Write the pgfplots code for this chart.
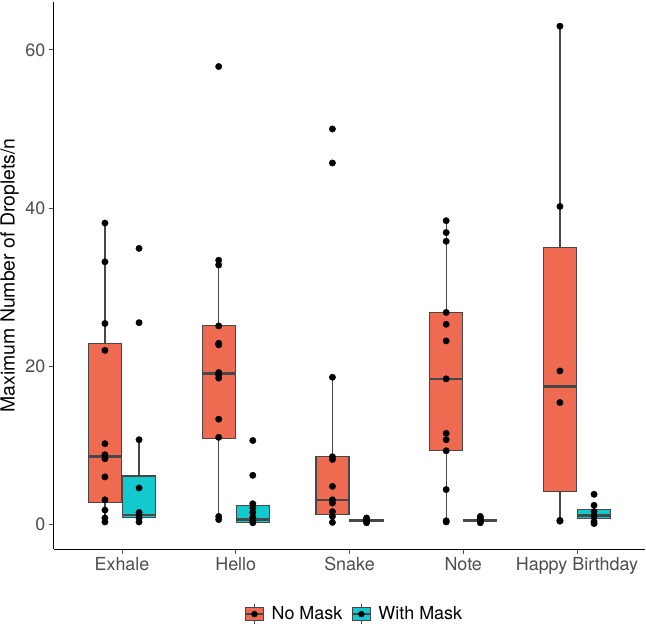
\documentclass[border=0pt]{standalone}
\usepackage{pgfplots}
\pgfplotsset{compat=1.18}
\usepgfplotslibrary{statistics}
\usepackage{fontspec}
\setmainfont{TeX Gyre Heros}
\definecolor{nomask}{HTML}{EE6A50}
\definecolor{withmask}{HTML}{12CACE}
\definecolor{boxedge}{HTML}{474747}
\definecolor{axtext}{HTML}{4D4D4D}
\pgfplotsset{
  bx/.style n args={6}{forget plot, draw=boxedge, line width=1.2bp,
    boxplot/draw direction=y,
    boxplot prepared={draw position=#1, box extend=0.29, whisker extend=0,
      lower whisker=#2, lower quartile=#3, median=#4, upper quartile=#5, upper whisker=#6,
      every median/.style={line width=2.6bp}}},
  pts/.style={only marks, mark=*, mark size=3.2bp, black, forget plot, mark options={draw=none, fill=black}},
  keyimg/.style={legend image code/.code={
    \path[draw=boxedge, line width=1.1bp] (9.5bp,-10bp) -- (9.5bp,10bp);
    \path[draw=boxedge, fill=#1, line width=1.1bp] (0.5bp,-6.5bp) rectangle (18.5bp,6.5bp);
    \path[draw=boxedge, line width=2.2bp] (0.5bp,0bp) -- (18.5bp,0bp);
    \path[fill=black] (9.5bp,0bp) circle[radius=3bp];
  }},
}
\begin{document}
\begin{tikzpicture}
\useasboundingbox (-53.75bp,-95bp) rectangle (592.25bp,549bp);
\begin{axis}[
  at={(0,0)}, anchor=south west,
  scale only axis, width=591.5bp, height=547bp,
  xmin=0.4, xmax=5.6, ymin=-3.12, ymax=66.06,
  axis x line*=bottom, axis y line*=left,
  axis line style={line width=0.9bp, black},
  xtick={1,2,3,4,5},
  xticklabels={Exhale,Hello,Snake,Note,Happy Birthday},
  ytick={0,20,40,60},
  tick align=outside, major tick length=5bp,
  tick style={line width=0.9bp, axtext},
  /pgf/number format/assume math mode=true,
  ticklabel style={font=\fontsize{18}{21}\selectfont, text=axtext},
  ylabel={Maximum Number of Droplets/n},
  every axis y label/.style={at={(axis description cs:-0.0744,0.5)}, rotate=90, anchor=center, font=\fontsize{19.5}{23}\selectfont},
  clip=false,
  legend columns=2,
  legend style={at={(axis description cs:0.508,-0.119)}, anchor=center, draw=none, fill=none,
    font=\fontsize{18}{21}\selectfont,
    /tikz/every odd column/.append style={column sep=5bp},
    /tikz/every even column/.append style={column sep=7bp}},
]
% Exhale
\addplot[bx={0.85}{0.3}{2.78}{8.55}{22.85}{38.1}, fill=nomask] coordinates {};
\addplot[bx={1.15}{0.3}{0.9}{1.2}{6.1}{10.7}, fill=withmask] coordinates {};
% Hello
\addplot[bx={1.85}{0.6}{10.9}{19.1}{25.1}{33.4}, fill=nomask] coordinates {};
\addplot[bx={2.15}{0.15}{0.2}{0.6}{2.4}{2.6}, fill=withmask] coordinates {};
% Snake
\addplot[bx={2.85}{0.25}{1.2}{3.1}{8.55}{18.6}, fill=nomask] coordinates {};
\addplot[bx={3.15}{0.35}{0.35}{0.5}{0.65}{0.65}, fill=withmask] coordinates {};
% Note
\addplot[bx={3.85}{0.3}{9.3}{18.4}{26.8}{38.4}, fill=nomask] coordinates {};
\addplot[bx={4.15}{0.35}{0.35}{0.5}{0.65}{0.65}, fill=withmask] coordinates {};
% Happy Birthday
\addplot[bx={4.85}{0.4}{4.2}{17.4}{35.0}{63.0}, fill=nomask] coordinates {};
\addplot[bx={5.15}{0.1}{0.75}{1.1}{1.9}{2.4}, fill=withmask] coordinates {};
% points
\addplot[pts] coordinates {
(0.85,38.1) (0.85,33.2) (0.85,25.4) (0.85,22.0) (0.85,10.2) (0.85,8.8) (0.85,8.3) (0.85,6.0) (0.85,3.1) (0.85,1.8) (0.85,0.8) (0.85,0.3)
(1.15,34.9) (1.15,25.5) (1.15,10.7) (1.15,4.6) (1.15,1.5) (1.15,1.2) (1.15,0.8) (1.15,0.3)
(1.85,57.9) (1.85,33.4) (1.85,32.8) (1.85,25.1) (1.85,22.9) (1.85,22.7) (1.85,19.2) (1.85,18.9) (1.85,18.5) (1.85,13.3) (1.85,11.0) (1.85,1.0) (1.85,0.6)
(2.15,10.6) (2.15,6.2) (2.15,2.6) (2.15,2.1) (2.15,1.5) (2.15,0.9) (2.15,0.4) (2.15,0.2)
(2.85,50.0) (2.85,45.7) (2.85,18.6) (2.85,8.55) (2.85,8.2) (2.85,4.8) (2.85,3.1) (2.85,2.7) (2.85,1.6) (2.85,1.0) (2.85,0.25)
(3.15,0.2) (3.15,0.4) (3.15,0.6) (3.15,0.8)
(3.85,38.4) (3.85,36.9) (3.85,35.8) (3.85,26.8) (3.85,25.3) (3.85,23.2) (3.85,18.4) (3.85,11.5) (3.85,10.7) (3.85,9.3) (3.85,4.4) (3.85,0.45) (3.85,0.3)
(4.15,0.2) (4.15,0.4) (4.15,0.6) (4.15,0.8) (4.15,1.0)
(4.85,63.0) (4.85,40.2) (4.85,19.4) (4.85,15.4) (4.85,0.5) (4.85,0.4)
(5.15,3.8) (5.15,2.4) (5.15,1.6) (5.15,1.0) (5.15,0.35) (5.15,0.1)
};
\addlegendimage{keyimg=nomask}
\addlegendentry{No Mask}
\addlegendimage{keyimg=withmask}
\addlegendentry{With Mask}
\end{axis}
\end{tikzpicture}
\end{document}
